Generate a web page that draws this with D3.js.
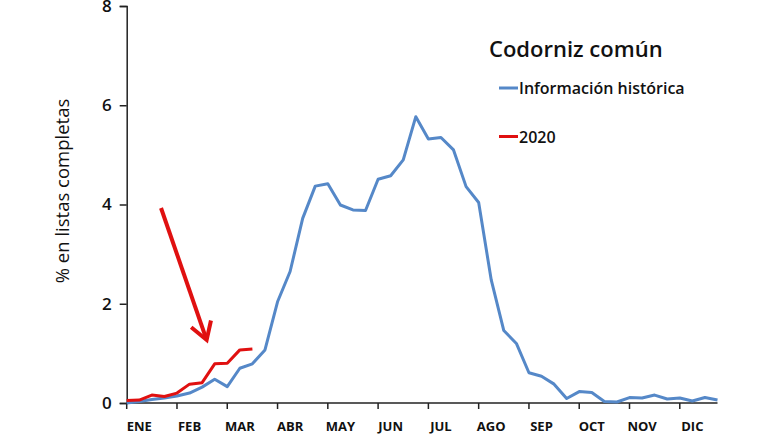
<!DOCTYPE html>
<html><head><meta charset="utf-8">
<script src="https://cdn.jsdelivr.net/npm/d3@7"></script>
<style>body{margin:0;background:#fff}svg{display:block}text{font-family:"Open Sans","Lato",sans-serif;fill:#111}</style>
</head><body><svg id="c" width="780" height="440"></svg>
<script>
const months = ["ENE","FEB","MAR","ABR","MAY","JUN","JUL","AGO","SEP","OCT","NOV","DIC"];
const yTicks = [0,2,4,6,8];
const historica = [0.0,0.03,0.07,0.1,0.14,0.2,0.32,0.48,0.33,0.7,0.79,1.07,
  2.04,2.65,3.72,4.37,4.42,3.99,3.89,3.88,4.51,4.58,4.9,5.77,
  5.32,5.35,5.1,4.36,4.04,2.48,1.46,1.2,0.61,0.54,0.38,0.09,
  0.23,0.21,0.03,0.02,0.11,0.1,0.16,0.08,0.1,0.04,0.11,0.06];
const y2020 = [0.05,0.06,0.16,0.13,0.2,0.38,0.41,0.79,0.8,1.07,1.09];
const title = "Codorniz común";
const seriesNames = ["Información histórica","2020"];
const colors = ["#5588C8","#E01010"];
const arrow = {from:[2.73,3.93], to:[6.36,1.27]};

const svg = d3.select("#c");
const x = d3.scaleLinear().domain([0,47]).range([126.7,717.5]);
const y = d3.scaleLinear().domain([0,8]).range([403,6]);

// y axis
const ya = svg.append("g").attr("transform","translate(126.7,0)")
  .call(d3.axisLeft(y).tickValues(yTicks).tickSize(7).tickPadding(8).tickFormat(d3.format("d")));
ya.select(".domain").attr("stroke","#222").attr("stroke-width",1.5);
ya.selectAll(".tick line").attr("stroke","#222").attr("stroke-width",1.5);
ya.selectAll("text").style("font-size","17px").style("font-weight","600").attr("fill","#111");

// x axis
const xa = svg.append("g").attr("transform","translate(0,403)");
xa.append("line").attr("x1",x(0)).attr("x2",x(47)).attr("stroke","#222").attr("stroke-width",1.5);
xa.selectAll(".t").data(months).join("line")
  .attr("x1",(d,i)=>x(i*4)).attr("x2",(d,i)=>x(i*4)).attr("y1",0).attr("y2",6)
  .attr("stroke","#222").attr("stroke-width",1.5);
xa.selectAll(".l").data(months).join("text")
  .attr("x",(d,i)=>x(i*4+1)).attr("y",28).attr("text-anchor","middle")
  .style("font-size","13px").style("font-weight","700").text(d=>d);

// y title
svg.append("text").attr("transform","translate(69,191) rotate(-90)").attr("text-anchor","middle")
  .style("font-size","18.5px").style("font-weight","500").text("% en listas completas");

const line = d3.line().x((d,i)=>x(i)).y(d=>y(d));
svg.append("path").datum(historica).attr("d",line).attr("fill","none")
  .attr("stroke",colors[0]).attr("stroke-width",3).attr("stroke-linejoin","round");
svg.append("path").datum(y2020).attr("d",line).attr("fill","none")
  .attr("stroke",colors[1]).attr("stroke-width",3).attr("stroke-linejoin","round");

// arrow
const ax0 = x(arrow.from[0]), ay0 = y(arrow.from[1]), ax1 = x(arrow.to[0]), ay1 = y(arrow.to[1]);
const ang = Math.atan2(ay1-ay0, ax1-ax0);
const hl = 20, hw = 0.55;
svg.append("line").attr("x1",ax0).attr("y1",ay0).attr("x2",ax1-2*Math.cos(ang)).attr("y2",ay1-2*Math.sin(ang))
  .attr("stroke",colors[1]).attr("stroke-width",4);
svg.append("path").attr("d",`M${ax1+hl*Math.cos(ang+Math.PI-hw)},${ay1+hl*Math.sin(ang+Math.PI-hw)}L${ax1},${ay1}L${ax1+hl*Math.cos(ang+Math.PI+hw)},${ay1+hl*Math.sin(ang+Math.PI+hw)}`)
  .attr("fill","none").attr("stroke",colors[1]).attr("stroke-width",4).attr("stroke-linejoin","miter");

// title + legend
svg.append("text").attr("x",489).attr("y",57).style("font-size","22px").style("font-weight","600").text(title);
const lg = svg.append("g");
seriesNames.forEach((n,i)=>{
  const yy = 88 + i*48.5;
  lg.append("line").attr("x1",499).attr("x2",518).attr("y1",yy).attr("y2",yy).attr("stroke",colors[i]).attr("stroke-width",3);
  lg.append("text").attr("x",519).attr("y",yy+6).style("font-size","16px").style("font-weight","600").text(n);
});
</script></body></html>
